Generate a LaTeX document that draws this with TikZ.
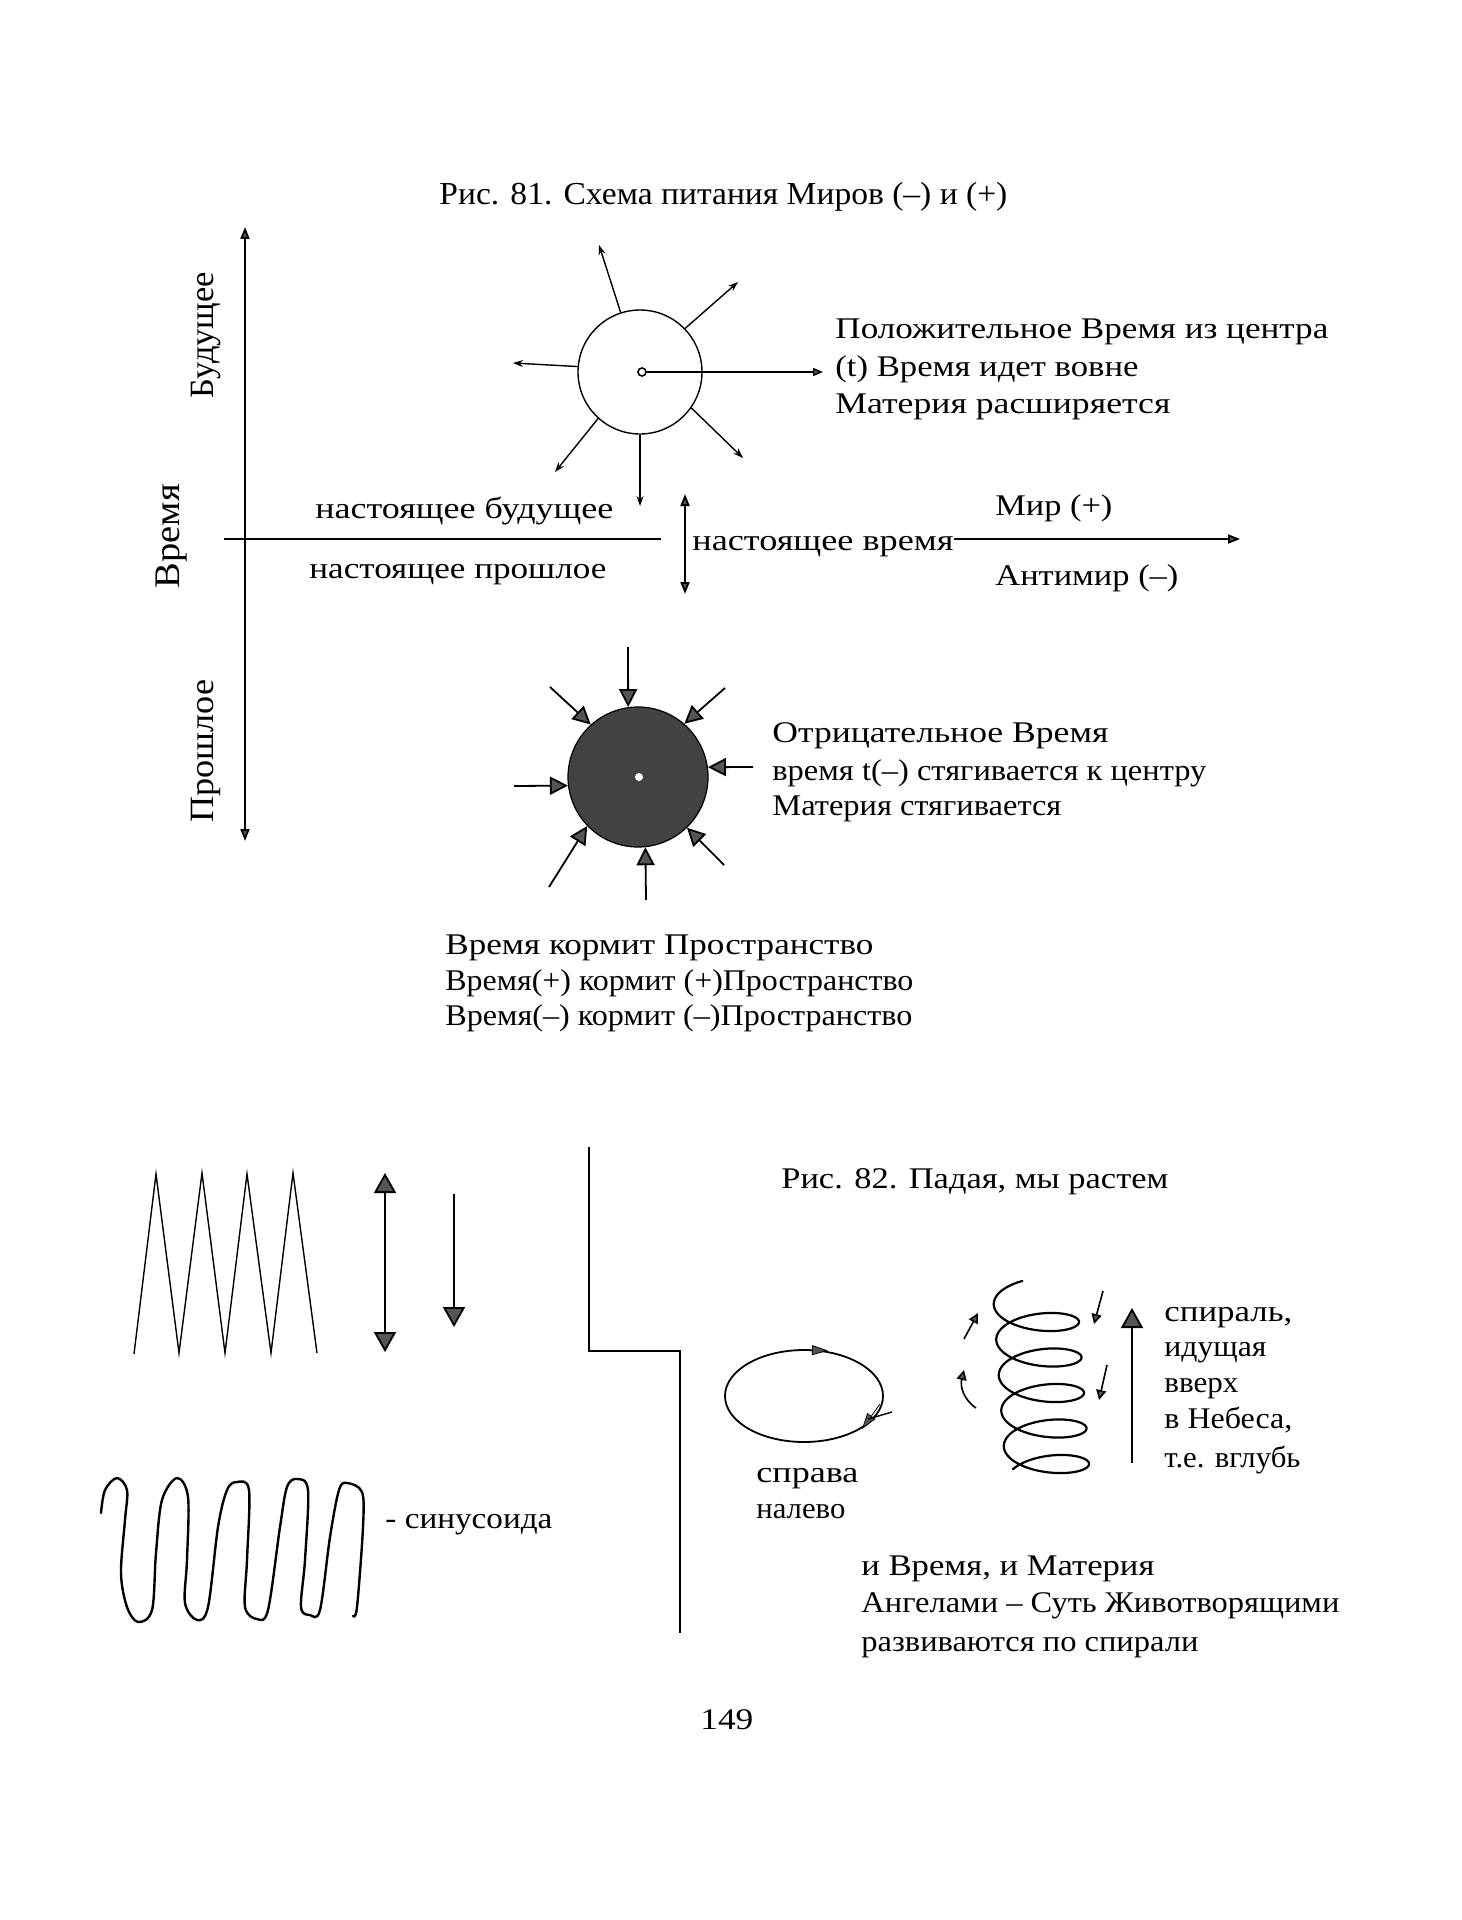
\documentclass[tikz,border=0pt]{standalone}
\usepackage{fontspec}
\setmainfont{Liberation Serif}
\usepackage{graphicx}
\usetikzlibrary{arrows.meta}
\definecolor{tipgray}{RGB}{85,85,85}
\definecolor{ballgray}{RGB}{66,66,66}
\newcommand\fw[2]{\resizebox{#1pt}{\height}{#2}}
\tikzset{
  AX/.tip={Triangle[length=6pt,width=4.5pt,fill=tipgray]},
  BG/.tip={Triangle[length=9pt,width=9pt,fill=tipgray]},
  BB/.tip={Triangle[length=10pt,width=11pt,fill=tipgray]},
  RY/.tip={Stealth[length=5pt,width=3.5pt]},
  SM/.tip={Triangle[length=5pt,width=4pt,fill=tipgray]},
  SA/.tip={Triangle[length=5pt,width=5pt,fill=tipgray]},
  EL/.tip={Triangle[length=8pt,width=5pt,fill=tipgray]},
}
\begin{document}
\begin{tikzpicture}[x=0.5pt,y=-0.5pt,
  txt/.style={inner sep=0pt, anchor=base west, font=\fontsize{15}{18}\selectfont},
  rtxt/.style={inner sep=0pt, anchor=base, rotate=90, font=\fontsize{17}{20}\selectfont},
  axis/.style={line width=0.9pt},
  thinl/.style={line width=0.7pt},
  curvel/.style={line width=1.2pt, line cap=round, line join=round}]
\useasboundingbox (0,0) rectangle (1461,1920);
\fill[white] (0,0) rectangle (1461,1920);

% ---------- Fig. 81 ----------
\node[txt, font=\fontsize{16}{19}\selectfont] (title) at (439,205) {\fw{284}{Рис. 81. Схема питания Миров (–) и (+)}};

% axes
\coordinate (vtop) at (245,227);
\coordinate (vbot) at (245,841);
\draw[axis, AX-AX] (vtop) -- (vbot);
\coordinate (hl) at (224,539);
\coordinate (hm) at (661,539);
\draw[axis] (hl) -- (hm);
\coordinate (hs) at (954,539);
\coordinate (he) at (1240,539);
\draw[axis, -AX] (hs) -- (he);
\coordinate (da) at (685,494);
\coordinate (db) at (685,594);
\draw[axis, AX-AX] (da) -- (db);

% rotated labels
\node[rtxt] (fut) at (213,335) {\fw{63}{Будущее}};
\node[rtxt, font=\fontsize{18}{21}\selectfont] (vrem) at (179,536) {\fw{52}{Время}};
\node[rtxt] (past) at (213,751) {\fw{71.5}{Прошлое}};

% axis labels
\node[txt] (nb) at (315,518) {\fw{149}{настоящее будущее}};
\node[txt] (np) at (309,578) {\fw{148.5}{настоящее прошлое}};
\node[txt] (nv) at (692,550) {\fw{130.5}{настоящее время}};
\node[txt] (mir) at (995,515) {\fw{58.5}{Мир (+)}};
\node[txt] (amir) at (995,585) {\fw{91.5}{Антимир (–)}};

% upper (white) circle
\node[circle, draw, thinl, minimum size=62pt, inner sep=0pt] (cp) at (640,372) {};
\node[circle, draw, line width=0.8pt, minimum size=4pt, inner sep=0pt] (cpc) at (642,372) {};
\coordinate (cpt) at (823,372);
\draw[thinl, -SM] (cpc.east) -- (cpt);
\foreach \a/\x/\y in {108/599/245, 44/738/282, 175/513/363, 228/555/472, 270/640/506, 325/743/458}
  \draw[thinl, -RY] (cp.\a) -- (\x,\y);

\node[txt] (pos1) at (835,338) {\fw{246.5}{Положительное Время из центра}};
\node[txt] (pos2) at (835,376) {\fw{151.5}{(t) Время идет вовне}};
\node[txt] (pos3) at (835,413) {\fw{167.5}{Материя расширяется}};

% lower (dark) circle
\node[circle, draw=black, fill=ballgray, line width=0.6pt, minimum size=70pt, inner sep=0pt] (cm) at (638,777) {};
\node[circle, fill=white, minimum size=4pt, inner sep=0pt] (cmc) at (639,777) {};
\foreach \a/\x/\y in {98/628/647, 132/550/687, 49/725/688, 8/753/767, 187/514/786, 224/549/887, 276/646/900, 314/724/865}
  \draw[axis, -BG] (\x,\y) -- (cm.\a);

\node[txt] (neg1) at (772,742) {\fw{168}{Отрицательное Время}};
\node[txt] (neg2) at (772,780) {\fw{217}{время t(–) стягивается к центру}};
\node[txt] (neg3) at (772,815) {\fw{144.5}{Материя стягивается}};

\node[txt] (cap1) at (445,954) {\fw{214}{Время кормит Пространство}};
\node[txt] (cap2) at (445,990) {\fw{234}{Время(+) кормит (+)Пространство}};
\node[txt] (cap3) at (445,1025) {\fw{233.5}{Время(–) кормит (–)Пространство}};

% ---------- Fig. 82 ----------
% zigzag
\draw[thinl, line join=miter] (134,1354) -- (156,1174) -- (179,1353) -- (202,1173) -- (225,1353)
  -- (247,1174) -- (271,1353) -- (293,1173) -- (317,1353);
% arrows
\coordinate (ua) at (385,1173);
\coordinate (ub) at (385,1352);
\draw[axis, BB-BB] (ua) -- (ub);
\coordinate (dwa) at (454,1194);
\coordinate (dwb) at (454,1327);
\draw[axis, -BB] (dwa) -- (dwb);

% stepped divider
\coordinate (s1) at (589,1147);
\coordinate (s2) at (589,1351);
\coordinate (s3) at (680,1351);
\coordinate (s4) at (680,1633);
\draw[axis] (s1) -- (s2) -- (s3) -- (s4);

% sinusoid
\draw[curvel] plot[smooth, tension=0.55] coordinates {
 (101,1513) (105,1490) (117,1478) (127,1490) (125,1520) (121,1573) (127,1607) (138,1622)
 (152,1610) (156,1553) (162,1500) (177,1478) (188,1497) (187,1560) (185,1603) (197,1620)
 (208,1607) (218,1527) (227,1490) (237,1482) (249,1490) (247,1560) (245,1607) (257,1619)
 (268,1610) (280,1527) (287,1487) (297,1479) (308,1490) (305,1560) (301,1607) (310,1615)
 (320,1610) (330,1537) (339,1490) (347,1483) (362,1492) (363,1527) (357,1607) (353,1616)};
\node[txt] (sin) at (385,1528) {\fw{83.5}{- синусоида}};

\node[txt] (title2) at (781,1188) {\fw{193.5}{Рис. 82. Падая, мы растем}};

% ellipse
\draw[axis] (804,1396) ellipse [x radius=79, y radius=46];
\draw[-EL, line width=0.4pt] (806,1350) -- (828,1350.6);
\draw[-EL, line width=0.4pt] (880,1404) -- (862,1429);
\draw[thinl] (868,1419) -- (892,1412);
\node[txt] (spr) at (756,1482) {\fw{51}{справа}};
\node[txt] (nal) at (756,1518) {\fw{44.5}{налево}};

% spiral
\draw[line width=1.1pt, line cap=round, line join=round] plot[domain=-4.4:27.7, samples=420, smooth, variable=\t]
  ({1037+42*cos(\t r)+0.4*\t}, {1322+5.65*\t-17*sin(\t r)});
\draw[line width=0.8pt, -SA] (964,1339) -- (978,1313);
\draw[line width=0.8pt, -SA] (976,1408) .. controls (963,1399) and (960,1386) .. (964,1370);
\draw[line width=0.8pt, -SA] (1103,1291) -- (1094,1324);
\draw[line width=0.8pt, -SA] (1107,1365) -- (1099,1400);
\coordinate (bua) at (1132,1463);
\coordinate (bub) at (1132,1308);
\draw[axis, -BB] (bua) -- (bub);

\node[txt] (sp1) at (1164,1321) {\fw{64}{спираль,}};
\node[txt] (sp2) at (1164,1356) {\fw{51}{идущая}};
\node[txt] (sp3) at (1164,1392) {\fw{37}{вверх}};
\node[txt] (sp4) at (1164,1428) {\fw{64}{в Небеса,}};
\node[txt] (sp5) at (1164,1467) {\fw{68}{т.е. вглубь}};

\node[txt] (b1) at (861,1575) {\fw{146.5}{и Время, и Материя}};
\node[txt] (b2) at (861,1612) {\fw{239}{Ангелами – Суть Животворящими}};
\node[txt] (b3) at (861,1651) {\fw{168.5}{развиваются по спирали}};

\node[txt] (pg) at (700,1729) {\fw{26.5}{149}};
\end{tikzpicture}
\end{document}
